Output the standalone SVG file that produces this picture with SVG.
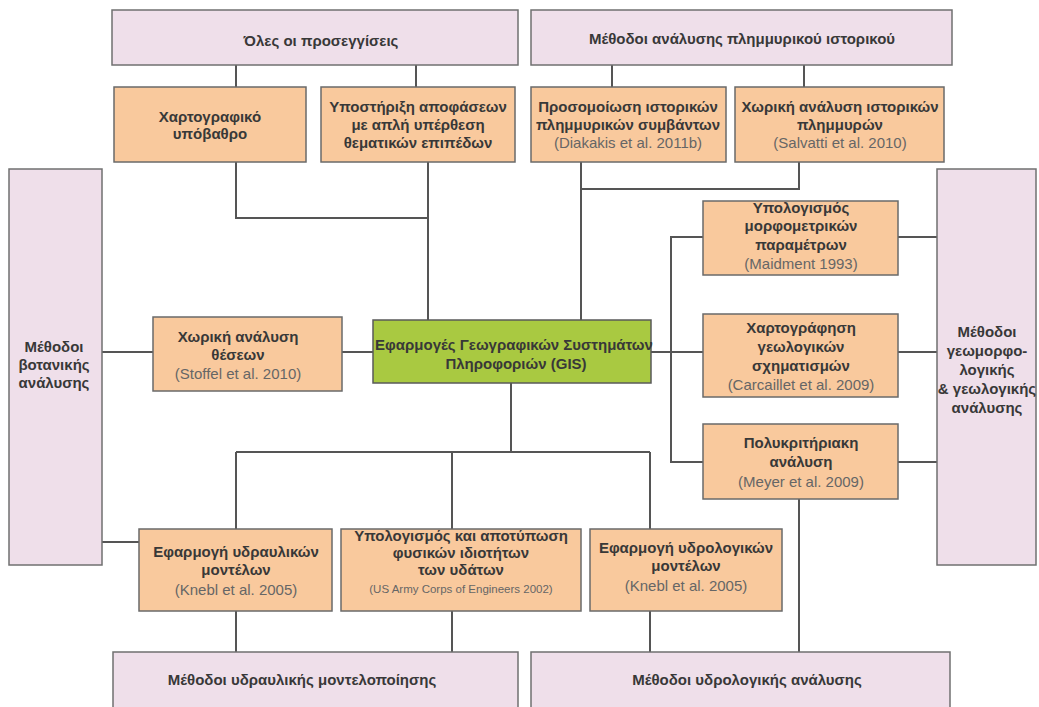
<svg xmlns="http://www.w3.org/2000/svg" width="1039" height="707" viewBox="0 0 1039 707">
<style>
.pink{fill:#efdfea;stroke:#707070;stroke-width:1.5}
.org{fill:#f9c99d;stroke:#6a6a6a;stroke-width:1.5}
.grn{fill:#a9c941;stroke:#5a5a5a;stroke-width:1.5}
.t{font-family:"Liberation Sans",Arial,sans-serif;font-size:15px;font-weight:bold;fill:#383838;text-anchor:middle}
.c{font-family:"Liberation Sans",Arial,sans-serif;font-size:15px;fill:#666;text-anchor:middle}
.s{font-family:"Liberation Sans",Arial,sans-serif;font-size:11.5px;fill:#666;text-anchor:middle}
.b{font-family:"Liberation Sans",Arial,sans-serif;font-size:15px;font-weight:bold;fill:#383838;text-anchor:middle}
.ln{fill:none;stroke:#555;stroke-width:2}
</style>
<rect width="1039" height="707" fill="#fff"/>
<g id="connectors">
<path class="ln" d="M236 65V87M416 65V87M612 65V87M804 65V87"/>
<path class="ln" d="M236 162V218H428M428 162V320"/>
<path class="ln" d="M581 162V320M581 189H799V162"/>
<path class="ln" d="M102 352H153M342 352H373M651 352H703"/>
<path class="ln" d="M703 237H671V462H703"/>
<path class="ln" d="M898 237H937M898 352H937M898 462H937"/>
<path class="ln" d="M511 383V452M236 452H650M236 452V529M452 452V529M650 452V529"/>
<path class="ln" d="M102 542H139"/>
<path class="ln" d="M236 611V652M452 611V652M650 611V652M799 499V652"/>
</g>
<g id="n-oles"><rect class="pink" x="112" y="10" width="406" height="55"/><text class="t" x="321" y="46">Όλες οι προσεγγίσεις</text></g>
<g id="n-istoriko"><rect class="pink" x="531" y="10" width="421" height="55"/><text class="t" x="742" y="44">Μέθοδοι ανάλυσης πλημμυρικού ιστορικού</text></g>
<g id="n-xarto"><rect class="org" x="114" y="87" width="192" height="75"/><text class="t" x="210" y="122">Χαρτογραφικό</text><text class="t" x="210" y="139">υπόβαθρο</text></g>
<g id="n-ypostirixi"><rect class="org" x="321" y="87" width="194" height="75"/><text class="t" x="418" y="112">Υποστήριξη αποφάσεων</text><text class="t" x="418" y="130">με απλή υπέρθεση</text><text class="t" x="418" y="148">θεματικών επιπέδων</text></g>
<g id="n-prosomoiosi"><rect class="org" x="531" y="87" width="195" height="75"/><text class="t" x="628" y="112">Προσομοίωση ιστορικών</text><text class="t" x="628" y="130">πλημμυρικών συμβάντων</text><text class="c" x="628" y="148">(Diakakis et al. 2011b)</text></g>
<g id="n-xoriki-ist"><rect class="org" x="735" y="87" width="209" height="75"/><text class="t" x="840" y="112">Χωρική ανάλυση ιστορικών</text><text class="t" x="840" y="130">πλημμυρών</text><text class="c" x="840" y="148">(Salvatti et al. 2010)</text></g>
<g id="n-votaniki"><rect class="pink" x="9" y="169" width="93" height="396"/><text class="t" x="54" y="352">Μέθοδοι</text><text class="t" x="54" y="370">βοτανικής</text><text class="t" x="54" y="388">ανάλυσης</text></g>
<g id="n-xoriki-theseon"><rect class="org" x="153" y="317" width="189" height="74"/><text class="t" x="238" y="342">Χωρική ανάλυση</text><text class="t" x="238" y="360">θέσεων</text><text class="c" x="238" y="379">(Stoffel et al. 2010)</text></g>
<g id="n-gis"><rect class="grn" x="373" y="320" width="278" height="63"/><text class="t" x="514" y="350">Εφαρμογές Γεωγραφικών Συστημάτων</text><text class="t" x="516" y="369">Πληροφοριών (GIS)</text></g>
<g id="n-morfometrikoi"><rect class="org" x="703" y="201" width="195" height="74"/><text class="t" x="801" y="213">Υπολογισμός</text><text class="t" x="801" y="231">μορφομετρικών</text><text class="t" x="801" y="250">παραμέτρων</text><text class="c" x="801" y="269">(Maidment 1993)</text></g>
<g id="n-geologikoi"><rect class="org" x="703" y="314" width="195" height="83"/><text class="t" x="801" y="333">Χαρτογράφηση</text><text class="t" x="801" y="352">γεωλογικών</text><text class="t" x="801" y="371">σχηματισμών</text><text class="c" x="801" y="390">(Carcaillet et al. 2009)</text></g>
<g id="n-polykritiriaki"><rect class="org" x="703" y="424" width="195" height="75"/><text class="t" x="801" y="448">Πολυκριτήριακη</text><text class="t" x="801" y="467">ανάλυση</text><text class="c" x="801" y="487">(Meyer et al. 2009)</text></g>
<g id="n-geomorfo"><rect class="pink" x="937" y="169" width="99" height="396"/><text class="t" x="987" y="337">Μέθοδοι</text><text class="t" x="987" y="356">γεωμορφο-</text><text class="t" x="987" y="375">λογικής</text><text class="t" x="987" y="394">&amp; γεωλογικής</text><text class="t" x="987" y="413">ανάλυσης</text></g>
<g id="n-ydravlika"><rect class="org" x="139" y="529" width="193" height="82"/><text class="t" x="236" y="557">Εφαρμογή υδραυλικών</text><text class="t" x="236" y="575">μοντέλων</text><text class="c" x="236" y="595">(Knebl et al. 2005)</text></g>
<g id="n-idiotites"><rect class="org" x="341" y="529" width="240" height="82"/><text class="t" x="461" y="541">Υπολογισμός και αποτύπωση</text><text class="t" x="461" y="558">φυσικών ιδιοτήτων</text><text class="t" x="461" y="575">των υδάτων</text><text class="s" x="461" y="593">(US Army Corps of Engineers 2002)</text></g>
<g id="n-ydrologika"><rect class="org" x="590" y="529" width="192" height="82"/><text class="t" x="686" y="553">Εφαρμογή υδρολογικών</text><text class="t" x="686" y="571">μοντέλων</text><text class="c" x="686" y="591">(Knebl et al. 2005)</text></g>
<g id="n-ydravliki-mont"><rect class="pink" x="113" y="652" width="405" height="64"/><text class="b" x="302" y="685">Μέθοδοι υδραυλικής μοντελοποίησης</text></g>
<g id="n-ydrologiki-anal"><rect class="pink" x="531" y="652" width="419" height="64"/><text class="b" x="747" y="685">Μέθοδοι υδρολογικής ανάλυσης</text></g>
</svg>
